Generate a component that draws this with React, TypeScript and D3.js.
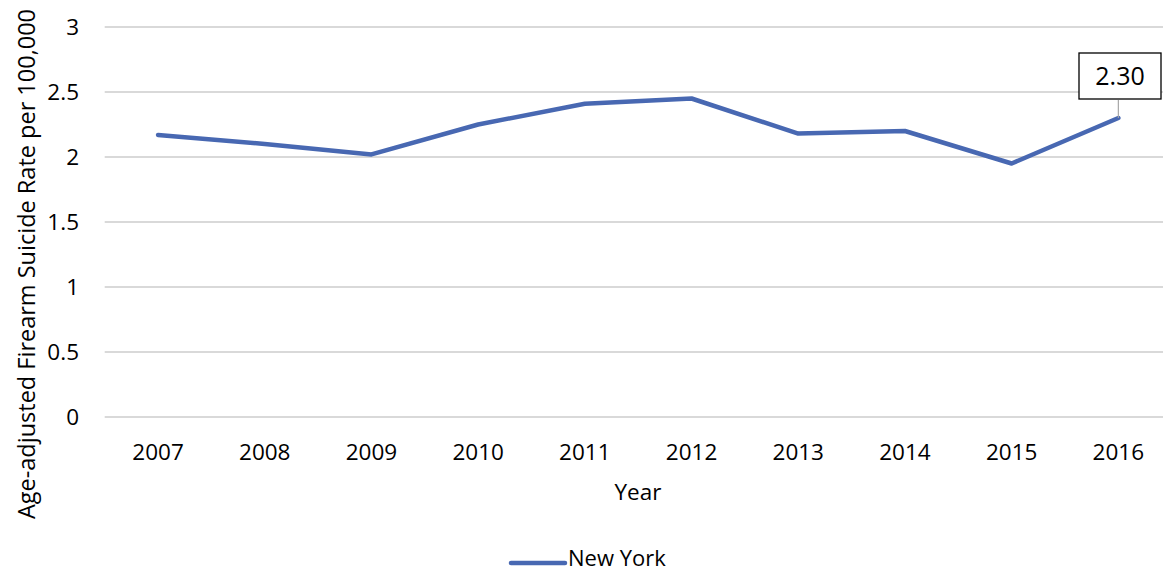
import React from "react";
import * as d3 from "d3";

const years = ["2007", "2008", "2009", "2010", "2011", "2012", "2013", "2014", "2015", "2016"];
const newYork = [2.17, 2.1, 2.02, 2.25, 2.41, 2.45, 2.18, 2.2, 1.95, 2.3];
const yTicks = [0, 0.5, 1, 1.5, 2, 2.5, 3];
const seriesName = "New York";
const yTitle = "Age-adjusted Firearm Suicide Rate per 100,000";
const xTitle = "Year";

const W = 1163;
const H = 573;
const FONT = "'Open Sans', sans-serif";
const FS = 22.5;
const BLUE = "#4868B2";

export default function App() {
  const x = d3.scaleBand().domain(years).range([104.7, 1171.7]);
  const y = d3.scaleLinear().domain([0, 3]).range([417, 27]);
  const cx = (yr: string) => (x(yr) as number) + x.bandwidth() / 2;
  const line = d3
    .line<number>()
    .x((_, i) => cx(years[i]))
    .y((d) => y(d));
  const lastI = newYork.length - 1;
  const lx = cx(years[lastI]);
  const ly = y(newYork[lastI]);

  return (
    <div style={{ position: "absolute", left: 0, top: 0 }}>
      <svg width={W} height={H} style={{ display: "block", fontFamily: FONT }}>
        <rect width={W} height={H} fill="#fff" />
        {yTicks.map((t) => (
          <g key={t}>
            <line x1={104.7} x2={1171.7} y1={y(t)} y2={y(t)} stroke="#d9d9d9" strokeWidth={2} />
            <text x={79} y={y(t)} dy="0.35em" textAnchor="end" fontSize={FS} fill="#000">
              {t}
            </text>
          </g>
        ))}
        {years.map((yr) => (
          <text key={yr} x={cx(yr)} y={452} dy="0.35em" textAnchor="middle" fontSize={FS} fill="#000">
            {yr}
          </text>
        ))}
        <text x={638} y={492} dy="0.35em" textAnchor="middle" fontSize={FS} fill="#000">
          {xTitle}
        </text>
        <text
          transform={`translate(27,264) rotate(-90)`}
          dy="0.35em"
          textAnchor="middle"
          fontSize={23.5}
          fill="#000"
        >
          {yTitle}
        </text>
        <path d={line(newYork) || ""} fill="none" stroke={BLUE} strokeWidth={4.5} strokeLinejoin="round" strokeLinecap="round" />
        <line x1={lx} x2={lx} y1={100} y2={ly} stroke="#a6a6a6" strokeWidth={1.2} />
        <rect x={1079} y={53} width={82} height={46} fill="#fff" stroke="#000" strokeWidth={1.3} />
        <text x={1120} y={76} dy="0.35em" textAnchor="middle" fontSize={25} fill="#000">
          {newYork[lastI].toFixed(2)}
        </text>
        <line x1={511} x2={565} y1={563} y2={563} stroke={BLUE} strokeWidth={4.5} strokeLinecap="round" />
        <text x={568} y={558} dy="0.35em" fontSize={22} fill="#000">
          {seriesName}
        </text>
      </svg>
    </div>
  );
}
